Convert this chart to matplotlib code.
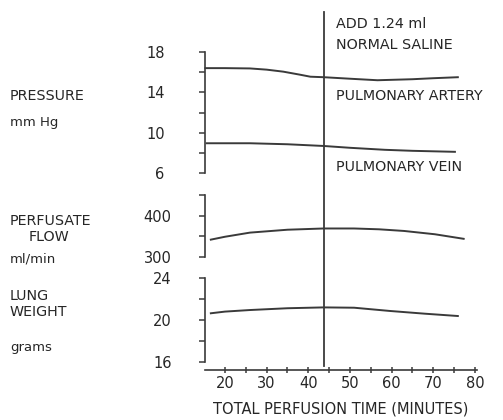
import matplotlib.pyplot as plt
from matplotlib.lines import Line2D
from matplotlib.transforms import blended_transform_factory
from matplotlib.ticker import FixedLocator

# data (minutes vs value)
artery_t = [15.3, 20, 26, 30, 34, 38, 40.5, 43.7, 50, 56.6, 65, 70, 75.9]
artery_v = [16.4, 16.4, 16.37, 16.25, 16.05, 15.75, 15.55, 15.5, 15.35, 15.2, 15.3, 15.4, 15.5]

vein_t = [15.6, 20, 26, 35, 43.7, 50, 58.4, 65, 75.2]
vein_v = [8.95, 8.95, 8.95, 8.85, 8.68, 8.5, 8.3, 8.2, 8.1]

flow_t = [16.6, 20, 26, 35, 43.7, 51, 57, 63, 70.4, 77.3]
flow_v = [342, 349, 359, 366, 369, 369, 367, 363, 355, 344]

lung_t = [16.6, 20, 26, 35, 43.7, 51, 59.6, 68, 75.9]
lung_v = [20.64, 20.8, 20.95, 21.12, 21.2, 21.17, 20.86, 20.6, 20.38]

saline_t = 43.7

ink = "#262626"
line_c = "#3a3a3a"

fig = plt.figure(figsize=(5.03, 4.2), dpi=100)

left = 205 / 503
width = 272 / 503
xlim = (15.2, 80.5)


def make_axes(y_top, y_bot, ylim, major, minor, pad):
    ax = fig.add_axes([left, 1 - y_bot / 420, width, (y_bot - y_top) / 420])
    ax.set_xlim(*xlim)
    ax.set_ylim(*ylim)
    for s in ["top", "right", "bottom"]:
        ax.spines[s].set_visible(False)
    ax.spines["left"].set_color(line_c)
    ax.spines["left"].set_linewidth(1.2)
    ax.yaxis.set_major_locator(FixedLocator(major))
    ax.yaxis.set_minor_locator(FixedLocator(minor))
    ax.tick_params(axis="y", which="both", direction="out", length=4, width=1.1,
                   color=line_c, labelcolor=ink, labelsize=10.5, pad=pad)
    ax.set_xticks([])
    ax.patch.set_alpha(0)
    return ax


ax_p = make_axes(52, 173, (6, 18), [6, 10, 14, 18], [8, 12, 16], 25)
ax_f = make_axes(195, 257, (300, 450), [300, 400], [350, 450], 20)
ax_l = make_axes(278, 362, (16, 24), [16, 20, 24], [18, 22], 20)

lw = 1.4
ax_p.plot(artery_t, artery_v, color=line_c, lw=lw, clip_on=False)
ax_p.plot(vein_t, vein_v, color=line_c, lw=lw, clip_on=False)
ax_f.plot(flow_t, flow_v, color=line_c, lw=lw, clip_on=False)
ax_l.plot(lung_t, lung_v, color=line_c, lw=lw, clip_on=False)

# x axis under the lung weight panel
ax_l.spines["bottom"].set_visible(True)
ax_l.spines["bottom"].set_position(("outward", 5.8))
ax_l.spines["bottom"].set_color(line_c)
ax_l.spines["bottom"].set_linewidth(1.2)
ax_l.set_xticks([20, 30, 40, 50, 60, 70, 80])
ax_l.set_xticks([25, 35, 45, 55, 65, 75], minor=True)
ax_l.tick_params(axis="x", which="both", direction="inout", length=5, width=1.1,
                 color=line_c, labelcolor=ink, labelsize=10.5, pad=2)
ax_l.set_xlabel("TOTAL PERFUSION TIME (MINUTES)", color=ink, fontsize=10.5, labelpad=7)

# saline marker line
tr = blended_transform_factory(ax_l.transData, fig.transFigure)
fig.add_artist(Line2D([saline_t, saline_t], [1 - 12 / 420, 1 - 366 / 420],
                      transform=tr, color=line_c, lw=1.3))

fs = 10.3
fig.text(336 / 503, 1 - 24 / 420, "ADD 1.24 ml", color=ink, fontsize=fs, va="center")
fig.text(336 / 503, 1 - 45 / 420, "NORMAL SALINE", color=ink, fontsize=fs, va="center")
fig.text(336 / 503, 1 - 96 / 420, "PULMONARY ARTERY", color=ink, fontsize=fs, va="center")
fig.text(336 / 503, 1 - 167 / 420, "PULMONARY VEIN", color=ink, fontsize=fs, va="center")

fig.text(10 / 503, 1 - 96 / 420, "PRESSURE", color=ink, fontsize=fs, va="center")
fig.text(10 / 503, 1 - 122 / 420, "mm Hg", color=ink, fontsize=9.5, va="center")
fig.text(10 / 503, 1 - 221 / 420, "PERFUSATE", color=ink, fontsize=fs, va="center")
fig.text(49 / 503, 1 - 237 / 420, "FLOW", color=ink, fontsize=fs, va="center", ha="center")
fig.text(10 / 503, 1 - 259 / 420, "ml/min", color=ink, fontsize=9.5, va="center")
fig.text(10 / 503, 1 - 296 / 420, "LUNG", color=ink, fontsize=fs, va="center")
fig.text(10 / 503, 1 - 312 / 420, "WEIGHT", color=ink, fontsize=fs, va="center")
fig.text(10 / 503, 1 - 347 / 420, "grams", color=ink, fontsize=9.5, va="center")

fig.savefig("out.png", dpi=100)
